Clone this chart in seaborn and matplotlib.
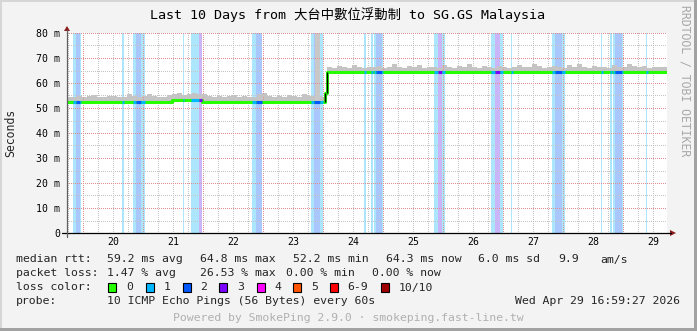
import numpy as np
import pandas as pd
import seaborn as sns
import matplotlib
matplotlib.use("Agg")
import matplotlib.pyplot as plt
from matplotlib.colors import to_rgba
from matplotlib.transforms import Affine2D
from matplotlib.patches import Rectangle, Polygon
from matplotlib.lines import Line2D

# ---------------- data ----------------
title = "Last 10 Days from 大台中數位浮動制 to SG.GS Malaysia"
x_start, x_end = 19.725, 29.725
day_labels = [20, 21, 22, 23, 24, 25, 26, 27, 28, 29]
y_ticks = [0, 10, 20, 30, 40, 50, 60, 70, 80]
y_tick_labels = ["0", "10 m", "20 m", "30 m", "40 m", "50 m", "60 m", "70 m", "80 m"]

# median rtt (ms), step function: value holds from time until next time
median_t = [19.725, 21.47, 21.97, 24.03, 24.05]
median_v = [52.4, 53.2, 52.4, 56.0, 64.3]

# packet-loss periods (day units) and loss level
loss_start = [19.833, 19.867, 19.942, 20.642, 20.825, 20.883, 20.958, 21.658,
              21.792, 21.925, 22.800, 22.870, 23.792, 23.847, 23.942,
              24.680, 24.792, 24.847, 24.867, 24.975, 25.847, 25.913, 25.970,
              26.792, 26.858, 26.942, 27.125, 27.808, 27.858, 27.970,
              28.625, 28.775, 28.830, 28.850, 28.975, 29.375]
loss_end = [19.867, 19.942, 19.958, 20.667, 20.883, 20.958, 21.020, 21.683,
            21.925, 21.980, 22.870, 22.980, 23.847, 23.942, 23.997,
            24.708, 24.817, 24.867, 24.975, 24.992, 25.913, 25.970, 26.017,
            26.858, 26.942, 26.997, 27.150, 27.858, 27.970, 28.025,
            28.650, 28.800, 28.850, 28.975, 28.997, 29.400]
loss_level = [1, 2, 1, 1, 1, 2, 1, 1,
              1, 3, 1, 2, 1, 2, 1,
              1, 1, 1, 2, 1, 1, 3, 1,
              1, 3, 1, 1, 1, 2, 1,
              1, 1, 1, 2, 1, 1]

# smoke (upper ping spread, ms) in 2-hour bins from x_start
smoke_top = [54.6, 54.4, 54.9, 54.3, 54.7, 55.2, 54.5, 54.4, 54.8, 55.0,
             54.3, 54.6, 55.8, 54.8, 54.4, 54.9, 55.6, 54.7, 54.3, 54.6,
             55.1, 55.5, 55.9, 55.2, 55.7, 56.1, 55.6, 55.8, 54.8, 54.6,
             54.9, 54.4, 54.7, 55.3, 54.3, 54.8, 54.6, 54.4, 55.5, 56.0,
             54.8, 54.6, 54.7, 54.4, 55.4, 54.9, 54.6, 55.7, 54.8, 54.7,
             55.0, 54.6,
             66.5, 66.1, 66.8, 66.4, 66.2, 67.3, 66.5, 66.1, 66.6, 66.4,
             66.9, 66.2, 66.5, 67.5, 66.4, 66.1, 66.7, 66.5, 67.1, 66.2,
             66.4, 66.6, 66.1, 67.2, 66.5, 66.2, 66.8, 66.4, 67.6, 66.5,
             66.2, 66.7, 66.4, 66.1, 66.9, 66.5, 66.2, 66.6, 67.3, 66.4,
             66.5, 67.7, 66.8, 66.2, 66.4, 66.7, 66.5, 66.1, 67.1, 66.4,
             67.5, 66.5, 66.2, 66.8, 66.4, 66.6, 66.1, 67.2, 66.5, 66.4,
             67.6, 66.7, 66.4, 66.9, 66.2, 66.6, 66.4, 66.5]
smoke_bin_days = 1 / 12

# tall smoke column during the change-over
spike_start, spike_end, spike_top = 23.86, 23.94, 80.0

stats_rtt = ["59.2 ms avg", "64.8 ms max", "52.2 ms min", "64.3 ms now", "6.0 ms sd", "9.9", "am/s"]
stats_loss = ["1.47 % avg", "26.53 % max", "0.00 % min", "0.00 % now"]
loss_names = ["0", "1", "2", "3", "4", "5", "6-9", "10/10"]
loss_colors = ["#26ff00", "#00b8ff", "#0059ff", "#7e00ff", "#ff00ff", "#ff5500", "#ff0000", "#a10000"]
probe_text = "10 ICMP Echo Pings (56 Bytes) every 60s"
stamp = "Wed Apr 29 16:59:27 2026"
footer = "Powered by SmokePing 2.9.0 · smokeping.fast-line.tw"
side_text = "RRDTOOL / TOBI OETIKER"

# ---------------- style ----------------
sns.set_style("white")
MONO = ["DejaVu Sans Mono", "Noto Sans CJK TC"]
plt.rcParams["font.family"] = MONO

W, H = 697, 331
PW, PH = 600, 200  # plot area in pixels
fig = plt.figure(figsize=(W / 100, H / 100), dpi=100, facecolor="#f3f3f3")
pix = Affine2D().scale(1 / W, -1 / H).translate(0, 1) + fig.transFigure

ax = fig.add_axes([67 / W, 1 - 233 / H, PW / W, PH / H])
ax.set_facecolor("white")
for s in ax.spines.values():
    s.set_visible(False)

med_t = np.array(median_t)
med_v = np.array(median_v)


def med_at(t):
    idx = np.searchsorted(med_t, np.asarray(t), side="right") - 1
    return med_v[np.clip(idx, 0, len(med_v) - 1)]


bg_cols = {1: "#abe6fd", 2: "#a9c7fd", 3: "#cbb5f9"}
line_cols = {1: "#00b8ff", 2: "#0059ff", 3: "#7e00ff"}

# loss background bands
for s, e, lv in zip(loss_start, loss_end, loss_level):
    ax.axvspan(s, e, color=bg_cols[lv], lw=0, zorder=0.3)

# smoke
edges = x_start + np.arange(len(smoke_top) + 1) * smoke_bin_days
tops = np.array(smoke_top + [smoke_top[-1]])
ax.fill_between(edges, med_at(edges), tops, step="post", color="#c4c4c4", lw=0, zorder=0.6)
ax.fill_between([spike_start, spike_end], med_at([spike_start, spike_end]), [spike_top, spike_top],
                color="#c8c8c8", lw=0, zorder=0.6)

# dotted grid rendered pixel-exact as an overlay image
grid_img = np.zeros((PH, PW, 4))
c_minor = to_rgba("#c4c4c4")
c_major = to_rgba("#e09090")
px_per_day = PW / (x_end - x_start)
px_per_ms = PH / 80.0
for q in np.arange(19.75, x_end, 0.25):
    col = int(round((q - x_start) * px_per_day))
    if 0 <= col < PW:
        major = abs(q - round(q)) < 1e-6
        grid_img[0::2, col] = c_major if major else c_minor
for yv in range(5, 81, 5):
    row = min(int(round((80 - yv) * px_per_ms)), PH - 1)
    grid_img[row, 0::2] = c_major if yv % 10 == 0 else c_minor
ax.imshow(grid_img, extent=(x_start, x_end, 0, 80), aspect="auto",
          interpolation="nearest", zorder=2.5)

# median line (green = no loss)
df_med = pd.DataFrame({"t": median_t + [x_end], "rtt": median_v + [median_v[-1]]})
sns.lineplot(data=df_med, x="t", y="rtt", drawstyle="steps-post", color="#26ff00",
             lw=2.2, ax=ax, zorder=3)
for s, e, lv in zip(loss_start, loss_end, loss_level):
    ax.hlines(med_at((s + e) / 2), s, e, color=line_cols[lv], lw=2.2, zorder=3.1)
# change-over connector
ax.vlines(median_t[3], median_v[2], median_v[3], color="black", lw=1.0, zorder=3.2)
ax.vlines(median_t[4], median_v[3], median_v[4], color="black", lw=1.0, zorder=3.2)

ax.set_xlim(x_start, x_end)
ax.set_ylim(0, 80)

# ticks
ax.set_xticks([d + 0.5 for d in day_labels])
ax.set_xticklabels([str(d) for d in day_labels])
ax.set_yticks(y_ticks)
ax.set_yticklabels(y_tick_labels)
ax.tick_params(axis="x", length=0, pad=3.0, labelsize=7.1, colors="black")
ax.tick_params(axis="y", length=0, pad=5.0, labelsize=7.1, colors="black")
ax.set_xlabel("")
ax.set_ylabel("")

# axes lines + arrows
fig.add_artist(Line2D([62, 671], [233, 233], transform=pix, color="black", lw=0.9))
fig.add_artist(Line2D([67, 67], [237, 30], transform=pix, color="#606060", lw=0.9))
fig.add_artist(Polygon([[670, 230], [676, 233], [670, 236]], closed=True, transform=pix,
                       color="#8b1a1a", lw=0))
fig.add_artist(Polygon([[64, 31], [67, 26], [70, 31]], closed=True, transform=pix,
                       color="#8b1a1a", lw=0))

# texts
fig.text(348, 15, title, transform=pix, ha="center", va="center", fontsize=9.6,
         family=MONO, color="black")
fig.text(11, 133, "Seconds", transform=pix, ha="center", va="center", rotation=90,
         fontsize=8.3, family=MONO)
fig.text(685, 81, side_text, transform=pix, ha="center", va="center", rotation=270,
         fontsize=8.3, family=MONO, color="#a8a8a8")

FS = 8.25
rtt_x = [107.3, 200, 293.3, 386, 478.3, 558.3, 600]
fig.text(16, 259.5, "median rtt:", transform=pix, va="center", fontsize=FS, family=MONO)
for x, s in zip(rtt_x, stats_rtt):
    fig.text(x, 259.5, s, transform=pix, va="center", fontsize=FS, family=MONO)
loss_x = [107.3, 200, 286, 372.3]
fig.text(16, 273.5, "packet loss:", transform=pix, va="center", fontsize=FS, family=MONO)
for x, s in zip(loss_x, stats_loss):
    fig.text(x, 273.5, s, transform=pix, va="center", fontsize=FS, family=MONO)
fig.text(16, 287.5, "loss color:", transform=pix, va="center", fontsize=FS, family=MONO)
box_x = [108.3, 145.7, 182.7, 219.3, 256.7, 293.3, 330, 381]
for x, name, c in zip(box_x, loss_names, loss_colors):
    fig.add_artist(Rectangle((x, 283), 8, 8.5, transform=pix, facecolor=c,
                             edgecolor="black", lw=0.8))
    fig.text(x + 17.7, 287.5, name, transform=pix, va="center", fontsize=FS, family=MONO)
fig.text(16, 301, "probe:", transform=pix, va="center", fontsize=FS, family=MONO)
fig.text(107.3, 301, probe_text, transform=pix, va="center", fontsize=FS, family=MONO)
fig.text(680, 301, stamp, transform=pix, va="center", ha="right", fontsize=FS, family=MONO)
fig.text(348.7, 318, footer, transform=pix, va="center", ha="center", fontsize=FS,
         family=MONO, color="#b0b0b0")

# frame shading
fig.add_artist(Rectangle((0, 0), W, 2, transform=pix, facecolor="#d6d6d6", lw=0))
fig.add_artist(Rectangle((0, 0), 2, H, transform=pix, facecolor="#d6d6d6", lw=0))
fig.add_artist(Rectangle((W - 3, 0), 3, H, transform=pix, facecolor="#a2a2a2", lw=0))
fig.add_artist(Rectangle((0, H - 3), W, 3, transform=pix, facecolor="#a2a2a2", lw=0))

fig.savefig("out.png", dpi=100, facecolor=fig.get_facecolor())
